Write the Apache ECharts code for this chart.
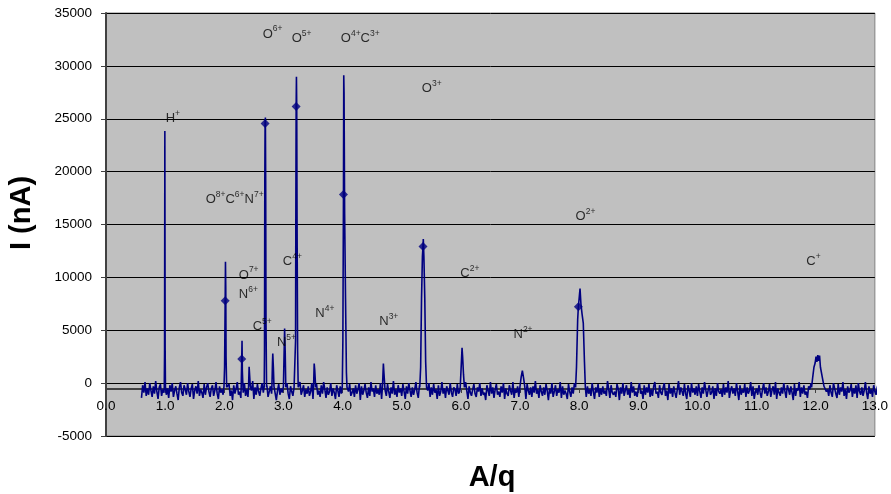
<!DOCTYPE html>
<html>
<head>
<meta charset="UTF-8">
<title>A/q spectrum</title>
<script src="https://cdn.jsdelivr.net/npm/echarts@6/dist/echarts.min.js"></script>
<style>
  body { margin: 0; background: #fff; }
  #chart { width: 891px; height: 494px; }
</style>
</head>
<body>
<div id="chart"></div>
<script>
// baseline noise, one value every 0.02 starting at A/q = 0.60, in units of 100 nA
var noiseStart = 0.60;
var noiseStep = 0.02;
var noiseUnit = 100;
var noise = [
  -14,-2,-9,1,-12,-5,-11,0,-7,-13,
  -3,-10,2,-8,-15,-4,-1,-12,-6,-9,
  1,-11,-5,-14,-2,-8,0,-13,-7,-3,
  -10,-16,-4,1,-9,-12,-2,-6,-11,0,
  -8,-13,-5,-1,-15,-7,-3,-10,2,-12,
  -6,-9,-14,-1,-11,-4,0,-8,-13,-5,
  -2,-12,-7,1,-10,-15,-3,-9,-6,-11,
  0,-8,-13,-4,-1,-12,-7,-16,-2,-10,
  -5,1,-11,-8,-14,-3,-9,0,-12,-6,
  -13,-2,-10,-7,2,-15,-4,-11,-1,-8,
  -12,-5,0,-9,-14,-6,-2,-13,-8,-3,
  -10,1,-12,-4,-16,-7,-1,-11,-5,-9,
  -2,-13,-6,0,-10,-15,-3,-8,-12,-4,
  -1,-9,-14,-5,1,-11,-7,-2,-13,-6,
  -10,-3,-12,-8,0,-15,-4,-9,-1,-11,
  -7,-13,-2,-10,1,-6,-14,-4,-11,-8,
  0,-12,-5,-9,-15,-2,-7,-13,-3,-10,
  -6,1,-11,-14,-4,-8,-1,-12,-9,-5,
  -13,-2,-10,-6,0,-16,-3,-11,-7,-1,
  -9,-14,-4,-12,1,-8,-5,-13,-2,-10,
  -6,-11,0,-15,-3,-9,-7,-12,-1,-8,
  -14,-4,-10,2,-11,-6,-13,-2,-9,-5,
  -12,-1,-8,-15,-3,-10,0,-7,-13,-4,
  -11,-6,1,-9,-14,-2,-12,-5,-8,-16,
  -3,-10,-7,0,-13,-4,-11,-1,-9,-6,
  -15,-2,-12,-8,1,-10,-5,-14,-3,-7,
  -11,0,-9,-13,-4,-6,-12,-1,-10,-8,
  -2,-14,-5,-11,1,-7,-15,-3,-9,-12,
  -6,-1,-10,-13,-4,-8,0,-12,-5,-11,
  -9,-16,-2,-7,-12,1,-10,-4,-14,-6,
  -1,-11,-8,-13,-3,-9,0,-15,-5,-10,
  -12,-2,-7,-11,1,-14,-6,-9,-3,-13,
  -5,-10,0,-12,-8,-15,-1,-7,-11,-4,
  -13,-3,-9,2,-10,-6,-14,-2,-8,-12,
  -4,-11,-1,-7,-16,-5,-10,0,-13,-8,
  -2,-12,-6,-9,1,-14,-3,-11,-7,-10,
  -15,-1,-8,-13,-4,-10,0,-6,-12,-5,
  -9,-14,-2,-11,1,-7,-13,-3,-10,-6,
  -12,0,-8,-15,-4,-9,-1,-13,-5,-11,
  -3,-10,-7,-12,2,-6,-14,-2,-9,-11,
  -8,-13,-1,-5,-16,-4,-10,0,-12,-7,
  -2,-11,-6,-14,1,-9,-3,-12,-8,-13,
  -5,0,-10,-7,-15,-2,-11,-4,-9,-1,
  -13,-6,-12,-3,1,-10,-8,-14,-2,-9,
  -11,-4,0,-12,-7,-16,-1,-10,-5,-13,
  -3,-9,-14,-6,2,-11,-4,-8,-12,-1,
  -10,-15,-2,-7,-13,0,-9,-5,-11,-3,
  -12,-1,-8,-14,-4,-10,1,-6,-13,-7,
  -2,-11,-9,-3,-15,-5,-12,0,-8,-10,
  -6,-13,-1,-11,-4,-9,2,-14,-7,-3,
  -10,-5,-12,0,-8,-16,-2,-11,-6,-9,
  -1,-13,-4,-10,-7,1,-12,-3,-15,-8,
  -5,-11,-2,-9,-14,-6,0,-10,-4,-12,
  -8,-1,-13,-7,-3,-11,1,-15,-5,-9,
  -12,-4,-10,0,-8,-14,-2,-6,-11,-3,
  -9,-16,-1,-12,-5,-7,1,-13,-4,-10,
  -2,-11,-8,-14,-3,-6,0,-12,-9,-5,
  -13,-1,-10,-4,2,-11,-7,-15,-3,-8,
  -6,-12,-2,-9,-13,0,-5,-10,-14,-1,
  -11,-4,-8,1,-12,-6,-15,-3,-9,-7,
  -1,-13,-5,-10,-2,-14,0,-8,-11,-4,
  -12,-7,1,-9,-15,-3,-10,-6,-13,-2,
  -8,-11,-4,0,-12,-6
];

// peak profiles [A/q, I]
var peaks = [
  [[0.985, -400], [0.99, 2800], [0.995, 23830], [1.0, 3400], [1.005, -300]],
  [[1.995, -300], [2.005, 1500], [2.015, 7780], [2.02, 11470], [2.025, 9000], [2.03, 2500], [2.04, -400]],
  [[2.285, -500], [2.295, 2270], [2.30, 4000], [2.305, 1200], [2.315, -300]],
  [[2.41, -400], [2.42, 1540], [2.43, 600], [2.44, -300]],
  [[2.675, -300], [2.68, 3000], [2.685, 18900], [2.69, 24560], [2.695, 25120], [2.70, 19000], [2.705, 6000], [2.715, -400]],
  [[2.805, -400], [2.815, 2000], [2.82, 2800], [2.83, 1500], [2.84, -300]],
  [[3.0, -300], [3.01, 2500], [3.02, 5170], [3.03, 3000], [3.04, -400]],
  [[3.2, -300], [3.205, 4000], [3.21, 16360], [3.215, 26170], [3.22, 28960], [3.225, 26000], [3.23, 16000], [3.24, 3000], [3.25, -400]],
  [[3.51, -300], [3.52, 1860], [3.53, 1200], [3.545, -400]],
  [[3.995, -300], [4.005, 4000], [4.015, 17840], [4.02, 29120], [4.025, 27500], [4.035, 16000], [4.05, 8000], [4.065, 1000], [4.075, -400]],
  [[4.675, -300], [4.69, 1860], [4.70, 900], [4.715, -400]],
  [[5.305, -400], [5.32, 1500], [5.335, 8000], [5.35, 12000], [5.36, 12930], [5.365, 13620], [5.375, 12000], [5.39, 8000], [5.405, 2000], [5.42, -400]],
  [[5.99, -300], [6.005, 1500], [6.02, 3340], [6.03, 2500], [6.045, 800], [6.06, -400]],
  [[7.0, -300], [7.02, 600], [7.04, 1170], [7.06, 500], [7.08, -300]],
  [[7.94, -400], [7.955, 1500], [7.975, 6000], [7.987, 7220], [8.015, 8950], [8.03, 7500], [8.05, 6500], [8.07, 5670], [8.09, 2000], [8.105, -400]],
  [[11.93, -400], [11.95, 600], [11.97, 1500], [11.99, 1900], [12.005, 2500], [12.02, 2000], [12.035, 2650], [12.05, 2100], [12.065, 2600], [12.08, 1500], [12.11, 600], [12.14, -300]]
];

// diamond markers
var markerX = [2.015, 2.295, 2.69, 3.215, 4.015, 5.36, 7.987];
var markerY = [7780, 2270, 24560, 26170, 17840, 12930, 7220];

// ion labels (left edge x, middle y)
var ionText = ['H+', 'O6+', 'O5+', 'O4+C3+', 'O3+', 'O8+C6+N7+', 'O7+', 'N6+', 'C4+', 'N4+', 'C5+', 'N5+', 'N3+', 'C2+', 'N2+', 'O2+', 'C+'];
var ionX = [1.01, 2.65, 3.14, 3.97, 5.34, 1.685, 2.245, 2.245, 2.99, 3.54, 2.48, 2.89, 4.62, 5.99, 6.89, 7.94, 11.84];
var ionY = [25180, 33160, 32750, 32750, 27990, 17470, 10370, 8540, 11630, 6740, 5480, 3970, 5960, 10500, 4730, 15890, 11630];

var yTicks = { min: -5000, max: 35000, interval: 5000 };
var xTicks = { min: 0, max: 13, interval: 1 };

var spectrum = [];
noise.forEach(function (v, i) {
  var x = +(noiseStart + i * noiseStep).toFixed(3);
  var inside = peaks.some(function (p) { return x >= p[0][0] && x <= p[p.length - 1][0]; });
  if (!inside) spectrum.push([x, v * noiseUnit]);
});
peaks.forEach(function (p) { p.forEach(function (pt) { spectrum.push(pt); }); });
spectrum.sort(function (a, b) { return a[0] - b[0]; });

var markers = markerX.map(function (x, i) { return [x, markerY[i]]; });
var ions = ionX.map(function (x, i) { return { value: [x, ionY[i]], name: ionText[i] }; });

function ionRich(s) {
  // letters normal, charge states as superscript
  return s.replace(/([A-Z])([0-9]*\+)/g, '{m|$1}{s|$2}');
}

var font = "'Liberation Sans', Arial, sans-serif";
var chart = echarts.init(document.getElementById('chart'));
chart.setOption({
  animation: false,
  backgroundColor: '#fff',
  textStyle: { fontFamily: font },
  grid: { left: 106, right: 12, top: 13, bottom: 58, show: true, backgroundColor: '#c0c0c0', borderColor: '#808080', borderWidth: 1 },
  xAxis: {
    type: 'value', min: xTicks.min, max: xTicks.max, interval: xTicks.interval,
    offset: -47,
    axisLine: { onZero: false, lineStyle: { color: '#404040', width: 2 } },
    axisTick: { show: true, length: 4, lineStyle: { color: '#404040' } },
    axisLabel: { color: '#000', fontSize: 13.5, margin: 10, fontFamily: font, formatter: function (v) { return v.toFixed(1); } },
    splitLine: { show: false }
  },
  yAxis: {
    type: 'value', min: yTicks.min, max: yTicks.max, interval: yTicks.interval,
    axisLine: { show: true, lineStyle: { color: '#404040', width: 2 } },
    axisTick: { show: true, length: 5, lineStyle: { color: '#404040' } },
    axisLabel: { color: '#000', fontSize: 13.5, margin: 14, fontFamily: font, formatter: function (v) { return String(v); } },
    splitLine: { show: true, lineStyle: { color: '#000', width: 1 } }
  },
  graphic: [
    { type: 'text', x: 22, y: 213, rotation: Math.PI / 2,
      style: { text: 'I (nA)', font: 'bold 29px ' + font, fill: '#000', align: 'center', verticalAlign: 'middle' } },
    { type: 'text', x: 492, y: 478,
      style: { text: 'A/q', font: 'bold 29px ' + font, fill: '#000', align: 'center', verticalAlign: 'middle' } }
  ],
  series: [
    {
      type: 'line', data: spectrum, showSymbol: false, symbol: 'none',
      lineStyle: { color: '#000080', width: 1.6 }, z: 3
    },
    {
      type: 'scatter', data: markers, symbol: 'diamond', symbolSize: 9,
      itemStyle: { color: '#000080' }, z: 4
    },
    {
      type: 'scatter', data: ions, symbolSize: 0, z: 5, silent: true,
      label: {
        show: true, position: [0, 0], align: 'left', verticalAlign: 'middle',
        formatter: function (p) { return ionRich(p.name); },
        rich: {
          m: { fontSize: 13, color: '#000', fontFamily: font, lineHeight: 16, verticalAlign: 'bottom' },
          s: { fontSize: 8.5, color: '#000', fontFamily: font, lineHeight: 8, verticalAlign: 'top' }
        }
      }
    }
  ]
});
</script>
</body>
</html>
